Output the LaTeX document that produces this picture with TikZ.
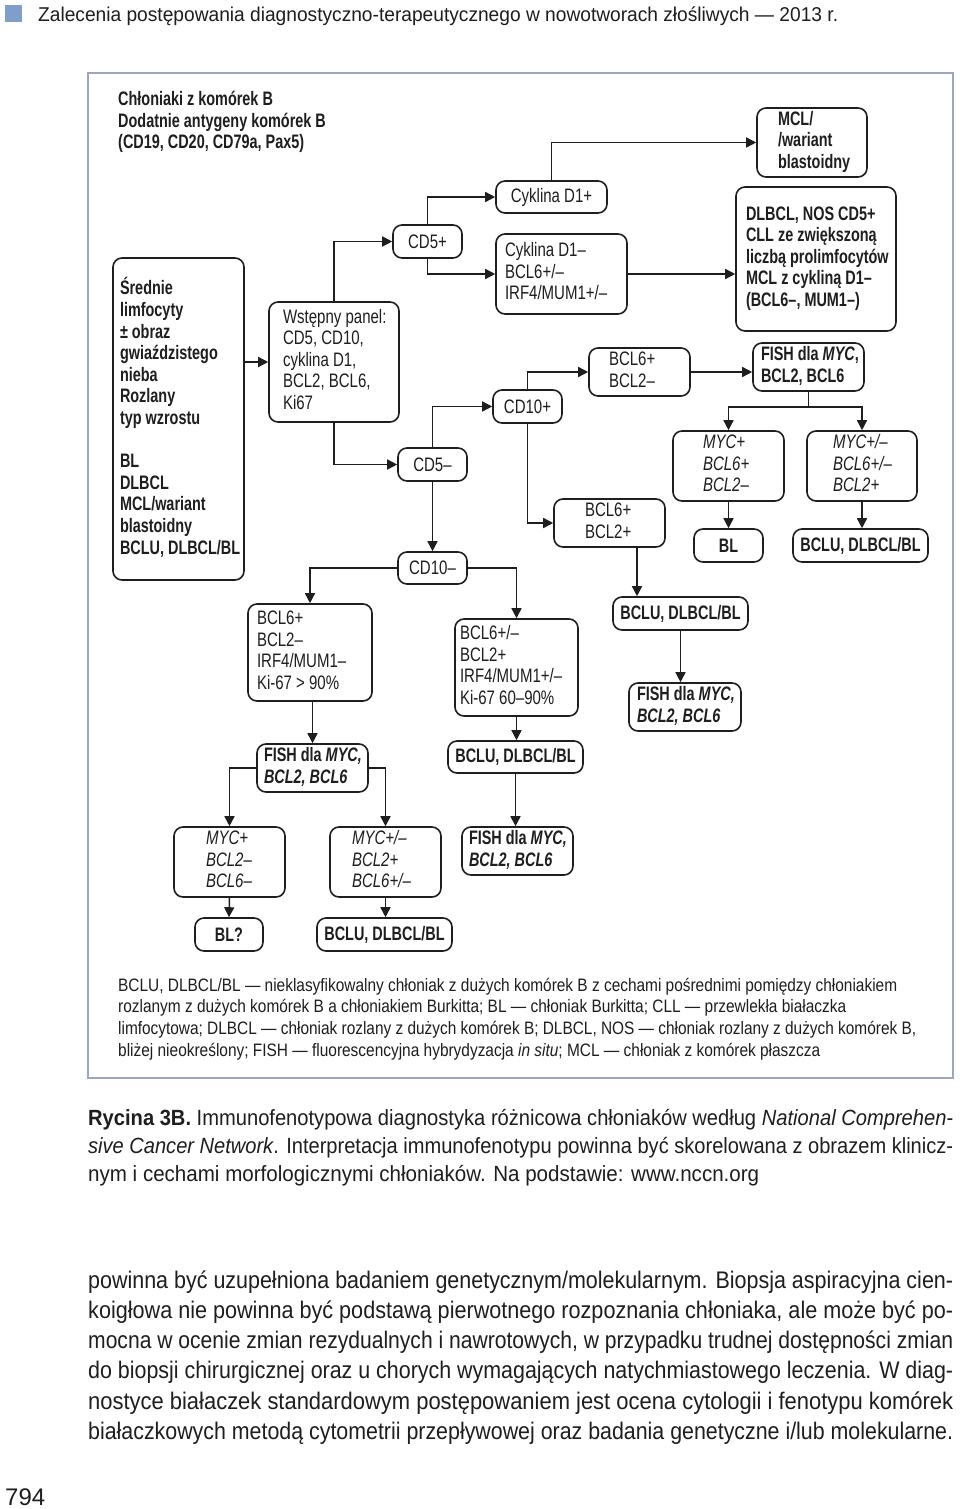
\documentclass[tikz,border=0pt]{standalone}
\usepackage{fontspec}
\usepackage{graphicx}
\setmainfont{Liberation Sans}[
  UprightFeatures={FakeStretch=0.77},
  ItalicFeatures={FakeStretch=0.77},
  BoldFeatures={FakeStretch=0.74},
  BoldItalicFeatures={FakeStretch=0.74}]
\newfontfamily\txtfont{Liberation Sans}[FakeStretch=0.84]
\usetikzlibrary{arrows.meta}
\definecolor{ink}{HTML}{1E1E1E}
\definecolor{framec}{RGB}{154,168,191}
\definecolor{sqc}{RGB}{128,158,204}
\newcommand\fitw[2]{\resizebox{#1}{\height}{#2}}
\newcommand\tl[1]{\noindent\spaceskip=0pt\xspaceskip=0pt\begin{tabular}{@{}l@{}}#1\end{tabular}}
\begin{document}
\begin{tikzpicture}[x=1pt,y=-1pt,
  dfont/.style={font=\fontsize{19.5}{21.6}\selectfont},
  box/.style={draw=ink, line width=1.6pt, rounded corners=9pt, inner sep=0pt, text=ink, dfont},
  lbox/.style={box, align=left},
  cbox/.style={box, align=center},
  bbox/.style={font=\fontsize{19.5}{21.6}\selectfont\bfseries},
  ibox/.style={font=\fontsize{19.5}{21.6}\selectfont\itshape},
  arr/.style={draw=ink, line width=1.5pt, -{Triangle[length=10pt,width=10pt]}},
  plain/.style={inner sep=0pt, text=ink, anchor=base west}]
\useasboundingbox (0,0) rectangle (960,1509);
\fill[white] (0,0) rectangle (960,1509);

% header
\fill[sqc] (5,5) rectangle (22,22);
\node[plain, font=\fontsize{20}{24}\selectfont] (hdr) at (38,22)
  {\fitw{800pt}{Zalecenia postępowania diagnostyczno-terapeutycznego w nowotworach złośliwych — 2013 r.}};

% frame
\draw[framec, line width=1.2pt] (88,73) rectangle (953,1078);

% title
\node[inner sep=0pt, text=ink, anchor=west, align=left, bbox] (title) at (118,122)
  {Chłoniaki z komórek B\\Dodatnie antygeny komórek B\\(CD19, CD20, CD79a, Pax5)};

% nodes
\node[lbox, bbox, minimum width=131, minimum height=322, text width=117] (left) at (178.5,419)
  {\tl{Średnie\\limfocyty\\± obraz\\gwiaździstego\\nieba\\Rozlany\\typ wzrostu\\ \\BL\\DLBCL\\MCL/wariant\\blastoidny\\BCLU, DLBCL/BL}};
\node[lbox, minimum width=130, minimum height=120, text width=102] (panel) at (334,362)
  {\tl{Wstępny panel:\\CD5, CD10,\\cyklina D1,\\BCL2, BCL6,\\Ki67}};
\node[cbox, minimum width=69, minimum height=33] (cd5p) at (427.5,241.5) {CD5+};
\node[cbox, minimum width=69, minimum height=33] (cd5m) at (432.5,464.5) {CD5–};
\node[cbox, minimum width=69, minimum height=32] (cd10m) at (432.5,568) {CD10–};
\node[cbox, minimum width=69, minimum height=33] (cd10p) at (527.5,406.5) {CD10+};
\node[cbox, minimum width=111, minimum height=32] (cykp) at (551.5,197) {Cyklina D1+};
\node[lbox, minimum width=131, minimum height=80, text width=113] (cykm) at (561.5,274)
  {\tl{Cyklina D1–\\BCL6+/–\\IRF4/MUM1+/–}};
\node[lbox, bbox, minimum width=110, minimum height=69, text width=68] (mcl) at (812,142.5)
  {\tl{MCL/\\/wariant\\blastoidny}};
\node[lbox, bbox, minimum width=160, minimum height=144, text width=140] (dlbcl) at (816,259)
  {\tl{DLBCL, NOS CD5+\\CLL ze zwiększoną\\liczbą prolimfocytów\\MCL z cykliną D1–\\(BCL6–, MUM1–)}};
\node[lbox, minimum width=101, minimum height=48, text width=61] (b62m) at (639.5,372)
  {\tl{BCL6+\\BCL2–}};
\node[lbox, bbox, minimum width=111, minimum height=48, text width=95] (fishR) at (808.5,367)
  {\tl{FISH dla \textit{MYC},\\BCL2, BCL6}};
\node[lbox, ibox, minimum width=111, minimum height=70, text width=51] (mycA) at (728.5,466)
  {\tl{MYC+\\BCL6+\\BCL2–}};
\node[lbox, ibox, minimum width=110, minimum height=70, text width=58] (mycB) at (862,466)
  {\tl{MYC+/–\\BCL6+/–\\BCL2+}};
\node[cbox, bbox, minimum width=69, minimum height=33] (bl) at (728.5,545.5) {BL};
\node[cbox, bbox, minimum width=135, minimum height=33] (bclu1) at (860.5,545.5) {BCLU, DLBCL/BL};
\node[lbox, minimum width=111, minimum height=48, text width=49] (b62p) at (609.5,523)
  {\tl{BCL6+\\BCL2+}};
\node[cbox, bbox, minimum width=135, minimum height=33] (bcluM) at (680.5,613.5) {BCLU, DLBCL/BL};
\node[lbox, bbox, minimum width=112, minimum height=48, text width=96] (fishM) at (685,707)
  {\tl{FISH dla \textit{MYC,}\\\textit{BCL2, BCL6}}};
\node[lbox, minimum width=124, minimum height=97, text width=106] (box22) at (310,652.5)
  {\tl{BCL6+\\BCL2–\\IRF4/MUM1–\\Ki-67 > 90\%}};
\node[lbox, minimum width=123, minimum height=97, text width=113] (box23) at (516.5,667.5)
  {\tl{BCL6+/–\\BCL2+\\IRF4/MUM1+/–\\Ki-67 60–90\%}};
\node[lbox, bbox, minimum width=111, minimum height=48, text width=97] (fishL) at (312.5,768)
  {\tl{FISH dla \textit{MYC,}\\\textit{BCL2, BCL6}}};
\node[cbox, bbox, minimum width=135, minimum height=32] (bcluL) at (515.5,757) {BCLU, DLBCL/BL};
\node[lbox, bbox, minimum width=111, minimum height=48, text width=97] (fishB) at (517.5,851)
  {\tl{FISH dla \textit{MYC,}\\\textit{BCL2, BCL6}}};
\node[lbox, ibox, minimum width=111, minimum height=70, text width=47] (mycC) at (229.5,862)
  {\tl{MYC+\\BCL2–\\BCL6–}};
\node[lbox, ibox, minimum width=111, minimum height=70, text width=67] (mycD) at (385.5,862)
  {\tl{MYC+/–\\BCL2+\\BCL6+/–}};
\node[cbox, bbox, minimum width=68, minimum height=33] (blq) at (229,934.5) {BL?};
\node[cbox, bbox, minimum width=135, minimum height=33] (bclu2) at (384.5,934.5) {BCLU, DLBCL/BL};

% connectors
\draw[arr] (left.east |- panel.west) -- (panel.west);
\draw[arr] (panel.north) |- (cd5p.west);
\draw[arr] (panel.south) |- (cd5m.west);
\draw[arr] (cd5p.north) |- (cykp.west);
\draw[arr] (cd5p.south) |- (cykm.west);
\draw[arr] (cykp.north) |- (mcl.west);
\draw[arr] (cykm.east) -- (cykm.east -| dlbcl.west);
\draw[arr] (cd5m.north) |- (cd10p.west);
\draw[arr] (cd5m.south) -- (cd10m.north);
\draw[arr] (cd10p.north) |- (b62m.west);
\draw[arr] (cd10p.south) |- (b62p.west);
\draw[arr] (b62m.east) -- (b62m.east -| fishR.west);
\draw[arr] (fishR.south) -- ++(0,15) -| (mycA.north);
\draw[arr] (fishR.south) -- ++(0,15) -| (mycB.north);
\draw[arr] (mycA.south) -- (bl.north);
\draw[arr] (mycB.south) -- (mycB.south |- bclu1.north);
\draw[arr] ([xshift=27.5pt]b62p.south) -- ([xshift=27.5pt]b62p.south |- bcluM.north);
\draw[arr] (bcluM.south) -- (bcluM.south |- fishM.north);
\draw[arr] (cd10m.west) -| (box22.north);
\draw[arr] (cd10m.east) -| (box23.north);
\draw[arr] (box22.south -| fishL.north) -- (fishL.north);
\draw[arr] (box23.south) -- (box23.south |- bcluL.north);
\draw[arr] (bcluL.south) -- (bcluL.south |- fishB.north);
\draw[arr] (fishL.west) -| (mycC.north);
\draw[arr] (fishL.east) -| (mycD.north);
\draw[arr] (mycC.south) -- (blq.north);
\draw[arr] (mycD.south) -- (mycD.south |- bclu2.north);

% legend
\begin{scope}[every node/.style={plain, font=\fontsize{18}{21}\selectfont}]
\node (lg1) at (118,991.5) {\fitw{779pt}{BCLU, DLBCL/BL — nieklasyfikowalny chłoniak z dużych komórek B z cechami pośrednimi pomiędzy chłoniakiem}};
\node (lg2) at (118,1012.5) {\fitw{728pt}{rozlanym z dużych komórek B a chłoniakiem Burkitta; BL — chłoniak Burkitta; CLL — przewlekła białaczka}};
\node (lg3) at (118,1034.5) {\fitw{798pt}{limfocytowa; DLBCL — chłoniak rozlany z dużych komórek B; DLBCL, NOS — chłoniak rozlany z dużych komórek B,}};
\node (lg4) at (118,1056.5) {\fitw{702pt}{bliżej nieokreślony; FISH — fluorescencyjna hybrydyzacja \textit{in situ}; MCL — chłoniak z komórek płaszcza}};
\end{scope}

% caption
\begin{scope}[every node/.style={plain, font=\txtfont\fontsize{22}{28}\selectfont}]
\node (cap1) at (88,1125.5) {\fitw{865pt}{\textbf{Rycina 3B.} Immunofenotypowa diagnostyka różnicowa chłoniaków według \textit{National Comprehen-}}};
\node (cap2) at (88,1153.5) {\fitw{865pt}{\textit{sive Cancer Network}. Interpretacja immunofenotypu powinna być skorelowana z obrazem klinicz-}};
\node (cap3) at (88,1181.5) {\fitw{671pt}{nym i cechami morfologicznymi chłoniaków. Na podstawie: www.nccn.org}};
\end{scope}

% body text
\begin{scope}[every node/.style={plain, font=\txtfont\fontsize{24}{30}\selectfont}]
\node (bd1) at (88,1288) {\fitw{865pt}{powinna być uzupełniona badaniem genetycznym/molekularnym. Biopsja aspiracyjna cien-}};
\node (bd2) at (88,1318) {\fitw{865pt}{koigłowa nie powinna być podstawą pierwotnego rozpoznania chłoniaka, ale może być po-}};
\node (bd3) at (88,1348) {\fitw{865pt}{mocna w ocenie zmian rezydualnych i nawrotowych, w przypadku trudnej dostępności zmian}};
\node (bd4) at (88,1378) {\fitw{865pt}{do biopsji chirurgicznej oraz u chorych wymagających natychmiastowego leczenia. W diag-}};
\node (bd5) at (88,1409) {\fitw{865pt}{nostyce białaczek standardowym postępowaniem jest ocena cytologii i fenotypu komórek}};
\node (bd6) at (88,1439) {\fitw{865pt}{białaczkowych metodą cytometrii przepływowej oraz badania genetyczne i/lub molekularne.}};
\node (pg) at (5,1505) {\fitw{40pt}{794}};
\end{scope}
\end{tikzpicture}
\end{document}
